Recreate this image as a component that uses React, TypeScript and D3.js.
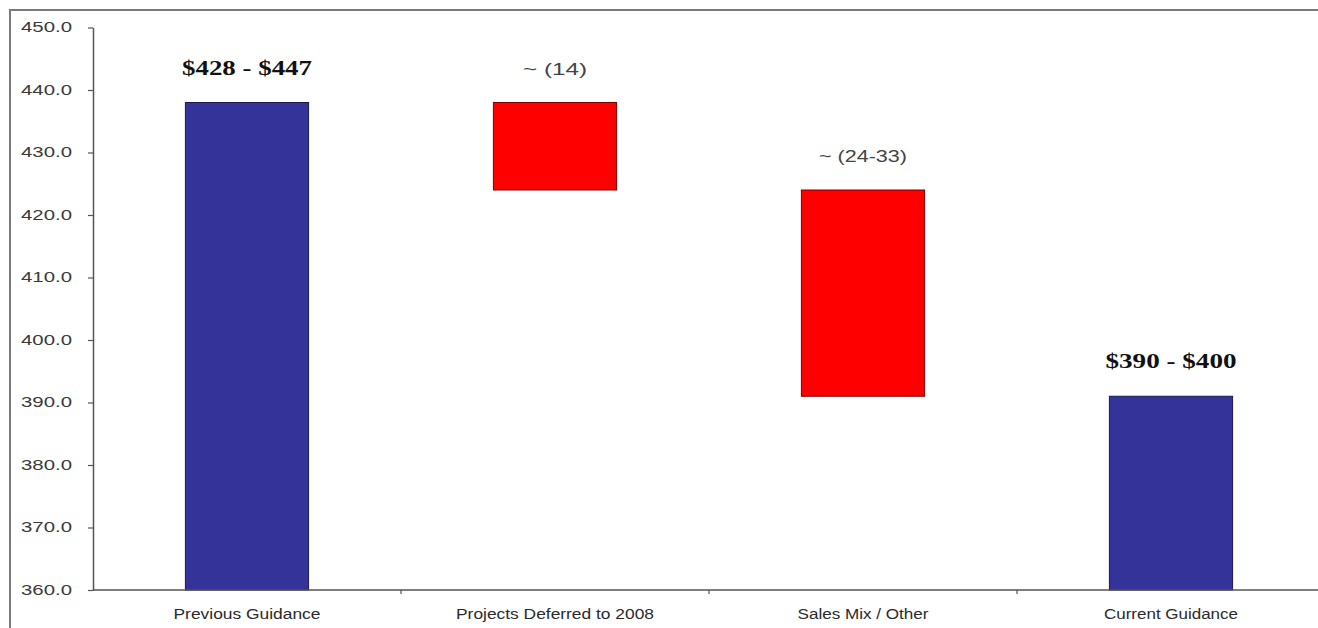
import React, { useEffect, useRef } from "react";
import * as d3 from "d3";

// waterfall steps
const categories = [
  "Previous Guidance",
  "Projects Deferred to 2008",
  "Sales Mix / Other",
  "Current Guidance",
];
const stepValues = [438, -14, -33, 391];
const stepKinds = ["total", "delta", "delta", "total"];
const topLabels = ["$428 - $447", "~ (14)", "~ (24-33)", "$390 - $400"];
const yTicks = [360, 370, 380, 390, 400, 410, 420, 430, 440, 450];

export default function App() {
  const ref = useRef<SVGSVGElement>(null);

  useEffect(() => {
    const width = 1318;
    const height = 628;
    const marginLeft = 93;
    const axisY = 590;

    const svg = d3.select(ref.current);
    svg.selectAll("*").remove();

    // build start/end for each bar
    let running = 0;
    const bars = categories.map((c, i) => {
      let y0: number, y1: number;
      if (stepKinds[i] === "total") {
        y0 = 360;
        y1 = stepValues[i];
        running = stepValues[i];
      } else {
        y0 = running;
        y1 = running + stepValues[i];
        running = y1;
      }
      return { c, lo: Math.min(y0, y1), hi: Math.max(y0, y1), kind: stepKinds[i], label: topLabels[i] };
    });

    const x = d3
      .scaleBand()
      .domain(categories)
      .range([marginLeft, 1325])
      .paddingInner(0.6)
      .paddingOuter(0.3);

    const y = d3.scaleLinear().domain([360, 450]).range([axisY, 27.5]);

    // outer frame (only top and left are inside the picture)
    svg
      .append("path")
      .attr("d", `M10,${height} V10 H${width}`)
      .attr("fill", "none")
      .attr("stroke", "#7a7a7a")
      .attr("stroke-width", 2);

    // y axis
    const yAxis = svg
      .append("g")
      .attr("transform", `translate(${marginLeft},0)`)
      .call(
        d3
          .axisLeft(y)
          .tickValues(yTicks)
          .tickFormat(d3.format(".1f") as any)
          .tickSize(5)
          .tickPadding(16)
          .tickSizeOuter(0)
      );
    yAxis.select(".domain").attr("stroke", "#555").attr("stroke-width", 1.5);
    yAxis.selectAll(".tick line").attr("stroke", "#555").attr("stroke-width", 1.2);
    yAxis
      .selectAll(".tick text")
      .attr("font-family", "Arial, 'Liberation Sans', sans-serif")
      .attr("font-size", 14)
      .attr("fill", "#3a3a3a")
      .attr("textLength", 51)
      .attr("lengthAdjust", "spacingAndGlyphs");

    // bars
    svg
      .append("g")
      .selectAll("rect")
      .data(bars)
      .join("rect")
      .attr("x", (d) => x(d.c)!)
      .attr("y", (d) => y(d.hi))
      .attr("width", x.bandwidth())
      .attr("height", (d) => y(d.lo) - y(d.hi))
      .attr("fill", (d) => (d.kind === "total" ? "#333399" : "#ff0000"))
      .attr("stroke", (d) => (d.kind === "total" ? "#1a1a4d" : "#7a0000"))
      .attr("stroke-width", 1);

    // x axis
    const gx = svg.append("g");
    gx.append("line")
      .attr("x1", marginLeft)
      .attr("x2", width)
      .attr("y1", axisY)
      .attr("y2", axisY)
      .attr("stroke", "#555")
      .attr("stroke-width", 1.5);
    const off = x.step() * x.paddingOuter();
    gx.selectAll("line.tk")
      .data(categories.slice(1))
      .join("line")
      .attr("class", "tk")
      .attr("x1", (d) => x(d)! - off)
      .attr("x2", (d) => x(d)! - off)
      .attr("y1", axisY)
      .attr("y2", axisY + 4)
      .attr("stroke", "#555")
      .attr("stroke-width", 1.2);

    const catWidths: Record<string, number> = {
      "Previous Guidance": 147,
      "Projects Deferred to 2008": 198,
      "Sales Mix / Other": 131,
      "Current Guidance": 134,
    };
    gx.selectAll("text")
      .data(categories)
      .join("text")
      .attr("x", (d) => x(d)! + x.bandwidth() / 2)
      .attr("y", 619)
      .attr("text-anchor", "middle")
      .attr("font-family", "Arial, 'Liberation Sans', sans-serif")
      .attr("font-size", 14)
      .attr("fill", "#2a2a2a")
      .attr("textLength", (d) => catWidths[d])
      .attr("lengthAdjust", "spacingAndGlyphs")
      .text((d) => d);

    // labels over bars
    const labelWidths = [130, 64, 88, 131];
    svg
      .append("g")
      .selectAll("text")
      .data(bars)
      .join("text")
      .attr("x", (d) => x(d.c)! + x.bandwidth() / 2)
      .attr("y", (d) => y(d.hi) - 28)
      .attr("text-anchor", "middle")
      .attr("font-family", (d) =>
        d.kind === "total" ? "'Liberation Serif', 'Times New Roman', serif" : "Arial, 'Liberation Sans', sans-serif"
      )
      .attr("font-weight", (d) => (d.kind === "total" ? "bold" : "normal"))
      .attr("font-size", (d) => (d.kind === "total" ? 20 : 16))
      .attr("fill", (d) => (d.kind === "total" ? "#111" : "#444"))
      .attr("textLength", (d, i) => labelWidths[i])
      .attr("lengthAdjust", "spacingAndGlyphs")
      .text((d) => d.label);
  }, []);

  return (
    <svg
      ref={ref}
      width={1318}
      height={628}
      style={{ position: "absolute", left: 0, top: 0, background: "#fff" }}
    />
  );
}
